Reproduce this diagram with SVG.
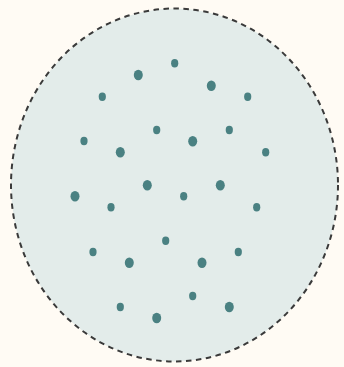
<svg xmlns="http://www.w3.org/2000/svg" width="344" height="367" viewBox="0 0 344 367">
<style>
.bg{fill:#FFFBF4}
.blob{fill:#E3ECEA;stroke:#3A3A3A;stroke-width:2;stroke-dasharray:5.5 4.5}
.dot{fill:#4A8182}
</style>
<rect class="bg" x="0" y="0" width="344" height="367"/>
<g id="region">
<ellipse class="blob" cx="174.5" cy="185" rx="163.5" ry="176.5"/>
</g>
<g id="dots-large" class="dot">
<ellipse cx="138.3" cy="75" rx="4.5" ry="5.2"/>
<ellipse cx="211.3" cy="85.7" rx="4.5" ry="5.2"/>
<ellipse cx="120.3" cy="152.3" rx="4.5" ry="5.2"/>
<ellipse cx="192.7" cy="141.3" rx="4.5" ry="5.2"/>
<ellipse cx="147.3" cy="185.2" rx="4.5" ry="5.2"/>
<ellipse cx="220.3" cy="185.2" rx="4.5" ry="5.2"/>
<ellipse cx="75" cy="196.3" rx="4.5" ry="5.2"/>
<ellipse cx="129.3" cy="262.7" rx="4.5" ry="5.2"/>
<ellipse cx="202" cy="262.7" rx="4.5" ry="5.2"/>
<ellipse cx="156.7" cy="318" rx="4.5" ry="5.2"/>
<ellipse cx="229.3" cy="307" rx="4.5" ry="5.2"/>
</g>
<g id="dots-small" class="dot">
<ellipse cx="174.7" cy="63.3" rx="3.6" ry="4.2"/>
<ellipse cx="102.3" cy="96.7" rx="3.6" ry="4.2"/>
<ellipse cx="247.7" cy="96.7" rx="3.6" ry="4.2"/>
<ellipse cx="156.7" cy="130" rx="3.6" ry="4.2"/>
<ellipse cx="229.3" cy="130" rx="3.6" ry="4.2"/>
<ellipse cx="84" cy="141" rx="3.6" ry="4.2"/>
<ellipse cx="265.7" cy="152.3" rx="3.6" ry="4.2"/>
<ellipse cx="111" cy="207.3" rx="3.6" ry="4.2"/>
<ellipse cx="183.7" cy="196.3" rx="3.6" ry="4.2"/>
<ellipse cx="256.7" cy="207.3" rx="3.6" ry="4.2"/>
<ellipse cx="165.7" cy="240.7" rx="3.6" ry="4.2"/>
<ellipse cx="93" cy="252" rx="3.6" ry="4.2"/>
<ellipse cx="238.3" cy="252" rx="3.6" ry="4.2"/>
<ellipse cx="192.7" cy="296" rx="3.6" ry="4.2"/>
<ellipse cx="120.3" cy="307" rx="3.6" ry="4.2"/>
</g>
</svg>
